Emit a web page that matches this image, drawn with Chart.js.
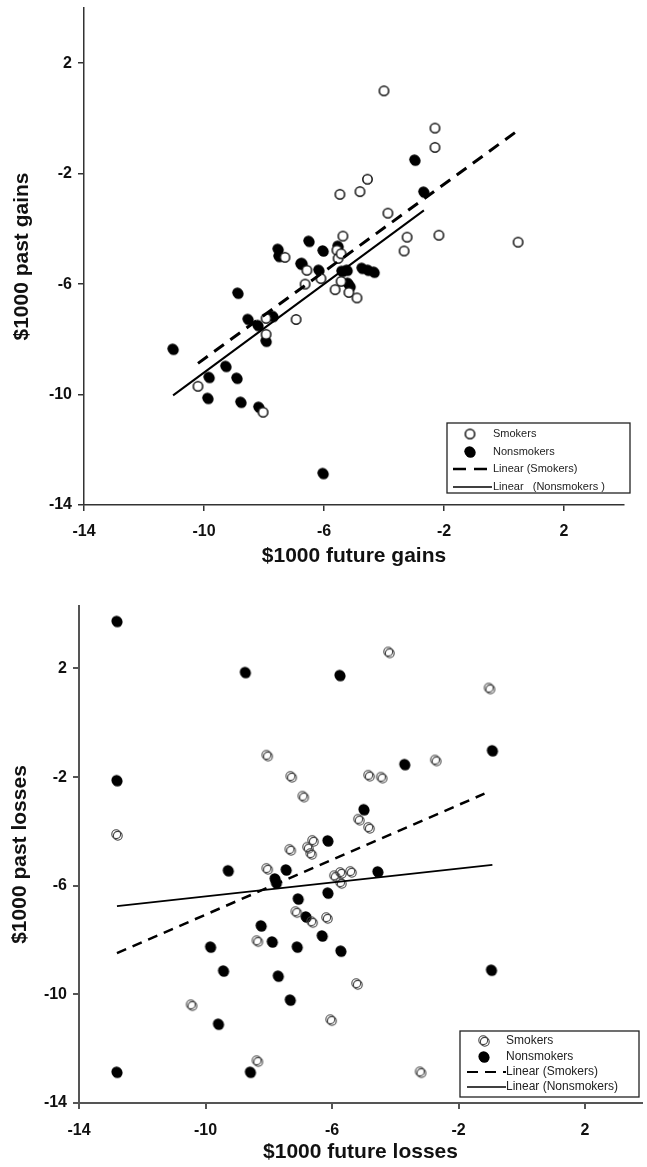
<!DOCTYPE html>
<html>
<head>
<meta charset="utf-8">
<script src="https://cdn.jsdelivr.net/npm/chart.js@4"></script>
<style>
body{margin:0;background:#fff;width:647px;height:1167px;overflow:hidden;}
.box{position:absolute;left:0;width:647px;}
#top{top:0;height:580px;}
#bot{top:580px;height:587px;}
</style>
</head>
<body>
<div class="box" id="top"><canvas id="gainsChart" width="647" height="580"></canvas></div>
<div class="box" id="bot"><canvas id="lossesChart" width="647" height="587"></canvas></div>
<script>
// tick values shared by both panels
const tickVals = [-14, -10, -6, -2, 2];

const legendGains = ["Smokers", "Nonsmokers", "Linear (Smokers)", "Linear   (Nonsmokers )"];
const legendLosses = ["Smokers", "Nonsmokers", "Linear (Smokers)", "Linear (Nonsmokers)"];

// top panel: future gains vs past gains
const gainsSmokers = [
[-4.0,1.0],[-2.3,-0.35],[-2.3,-1.05],[-4.55,-2.2],[-4.8,-2.65],[-5.47,-2.75],[-3.87,-3.43],
[-3.23,-4.3],[-3.33,-4.8],[-2.17,-4.23],[0.47,-4.48],[-5.37,-4.26],[-5.57,-4.77],[-5.53,-5.07],
[-5.43,-4.9],[-6.57,-5.5],[-6.63,-6.0],[-6.1,-5.8],[-5.63,-6.2],[-5.17,-6.3],[-4.9,-6.5],
[-5.43,-5.9],[-7.3,-5.03],[-6.93,-7.28],[-7.93,-7.24],[-7.93,-7.82],[-10.2,-9.7],[-8.03,-10.64]
];
const gainsNonsmokers = [
[-2.97,-1.51],[-2.67,-2.67],[-6.5,-4.45],[-6.03,-4.8],[-5.53,-4.63],[-6.73,-5.25],[-6.17,-5.5],
[-5.4,-5.54],[-5.23,-5.5],[-4.73,-5.43],[-4.53,-5.5],[-4.33,-5.57],[-5.2,-5.97],[-5.13,-6.08],
[-7.53,-4.74],[-7.5,-5.0],[-6.77,-5.28],[-8.87,-6.33],[-8.53,-7.28],[-8.2,-7.5],[-7.7,-7.17],
[-7.93,-8.07],[-11.03,-8.36],[-9.27,-8.98],[-9.83,-9.38],[-8.9,-9.41],[-9.87,-10.14],[-8.77,-10.28],
[-8.17,-10.46],[-6.03,-12.86]
];
const gainsTrendSmokers = [[-10.2,-8.87],[0.47,-0.43]];
const gainsTrendNonsmokers = [[-11.03,-10.03],[-2.67,-3.33]];

// bottom panel: future losses vs past losses
const lossesSmokers = [
[-4.2,2.59],[-1.02,1.26],[-8.05,-1.21],[-7.29,-1.99],[-6.91,-2.72],[-2.72,-1.39],[-4.83,-1.95],
[-4.43,-2.02],[-12.8,-4.13],[-5.15,-3.57],[-4.83,-3.87],[-6.6,-4.35],[-6.76,-4.6],[-6.66,-4.83],
[-7.32,-4.68],[-8.05,-5.38],[-5.91,-5.65],[-5.72,-5.53],[-5.4,-5.49],[-5.72,-5.9],[-7.13,-6.97],
[-6.63,-7.34],[-6.16,-7.19],[-8.36,-8.04],[-5.21,-9.62],[-10.44,-10.4],[-6.03,-10.95],
[-8.36,-12.46],[-3.2,-12.87]
];
const lossesNonsmokers = [
[-12.8,3.73],[-8.74,1.85],[-5.75,1.74],[-12.8,-2.13],[-6.13,-4.35],[-3.7,-1.54],[-0.93,-1.03],
[-4.99,-3.2],[-12.8,-12.87],[-9.28,-5.45],[-7.45,-5.42],[-7.76,-5.9],[-7.8,-5.75],[-6.13,-6.27],
[-7.07,-6.49],[-8.24,-7.48],[-6.82,-7.15],[-9.84,-8.26],[-7.89,-8.07],[-7.1,-8.26],[-6.31,-7.85],
[-5.72,-8.41],[-9.43,-9.14],[-7.7,-9.33],[-7.32,-10.21],[-9.59,-11.1],[-8.58,-12.87],
[-4.55,-5.49],[-0.96,-9.11]
];
const lossesTrendSmokers = [[-12.8,-8.48],[-1.18,-2.61]];
const lossesTrendNonsmokers = [[-12.8,-6.75],[-0.93,-5.23]];

const FONT = "'Liberation Sans', Arial, sans-serif";
const toPts = a => a.map(p => ({x: p[0], y: p[1]}));

// marker drawn twice with a small offset, like the scanned figure
function makeDot(r, fill, stroke, lw, dx, dy){
  const c = document.createElement("canvas");
  const s = Math.ceil(2*r + Math.max(Math.abs(dx), Math.abs(dy)) + lw + 2);
  c.width = c.height = s;
  const g = c.getContext("2d");
  const cx = s/2 - dx/2, cy = s/2 - dy/2;
  [[0,0],[dx,dy]].forEach(o => {
    g.beginPath();
    g.arc(cx+o[0], cy+o[1], r, 0, Math.PI*2);
    if(fill){ g.fillStyle = fill; g.fill(); }
    if(stroke){ g.strokeStyle = stroke; g.lineWidth = lw; g.stroke(); }
  });
  return c;
}

const gainsOpen = makeDot(4.6, "#fff", "#111", 1.3, 0, 0);
const gainsFilled = makeDot(5.2, "#000", null, 0, 1, 1.3);
const lossOpen = makeDot(4.4, null, "#444", 1.1, 1.6, 1.6);
const lossFilled = makeDot(5.2, "#000", null, 0, 0.8, 1);

function legendPlugin(cfg){
  return {
    id: "boxLegend",
    afterDraw(chart){
      const ctx = chart.ctx;
      ctx.save();
      ctx.strokeStyle = "#222";
      ctx.lineWidth = 1.3;
      ctx.strokeRect(cfg.x0, cfg.y0, cfg.x1-cfg.x0, cfg.y1-cfg.y0);
      ctx.font = cfg.size + "px " + FONT;
      ctx.fillStyle = "#222";
      ctx.textBaseline = "middle";
      cfg.labels.forEach((t, i) => {
        const y = cfg.rows[i];
        if(i === 0) ctx.drawImage(cfg.open, cfg.markX - cfg.open.width/2, y - cfg.open.height/2);
        if(i === 1) ctx.drawImage(cfg.filled, cfg.markX - cfg.filled.width/2, y - cfg.filled.height/2);
        if(i >= 2){
          ctx.beginPath();
          ctx.strokeStyle = "#000";
          ctx.lineWidth = i === 2 ? cfg.dashW : cfg.solidW;
          ctx.setLineDash(i === 2 ? cfg.dash : []);
          ctx.moveTo(cfg.lineX0, y);
          ctx.lineTo(cfg.lineX1, y);
          ctx.stroke();
          ctx.setLineDash([]);
        }
        ctx.fillText(t, cfg.textX, y);
      });
      ctx.restore();
    }
  };
}

function axis(title, min, max, fit, tickLen, tickPad, titlePad, lineColor, lineW){
  return {
    type: "linear", min: min, max: max,
    afterBuildTicks: s => { s.ticks = tickVals.map(v => ({value: v})); },
    afterFit: s => {
      fit(s);
      // no extra room for half tick labels at the ends
      s.paddingTop = 0; s.paddingBottom = 0; s.paddingLeft = 0; s.paddingRight = 0;
    },
    grid: {drawOnChartArea: false, drawTicks: true, tickLength: tickLen, tickColor: lineColor, tickWidth: lineW, color: lineColor, lineWidth: lineW},
    border: {display: true, color: lineColor, width: lineW},
    ticks: {autoSkip: false, maxRotation: 0, padding: tickPad, color: "#111",
      font: {family: FONT, size: 16, weight: "bold"}, callback: v => String(v)},
    title: {display: true, text: title, color: "#111", padding: titlePad,
      font: {family: FONT, size: 21, weight: "bold"}}
  };
}

function makeChart(id, p){
  return new Chart(document.getElementById(id), {
    type: "scatter",
    data: {datasets: [
      {type: "line", data: toPts(p.trendS), showLine: true, borderColor: "#000", borderWidth: p.dashW,
        borderDash: p.dash, pointRadius: 0, fill: false, order: 0},
      {type: "line", data: toPts(p.trendN), showLine: true, borderColor: "#000", borderWidth: p.solidW,
        pointRadius: 0, fill: false, order: 0},
      {data: toPts(p.smokers), pointStyle: p.open, order: 1},
      {data: toPts(p.nonsmokers), pointStyle: p.filled, order: 2}
    ]},
    options: {
      responsive: false, animation: false,
      layout: {padding: p.pad},
      plugins: {legend: {display: false}, tooltip: {enabled: false}},
      scales: {x: p.x, y: p.y}
    },
    plugins: [legendPlugin(p.legend)]
  });
}

makeChart("gainsChart", {
  smokers: gainsSmokers, nonsmokers: gainsNonsmokers,
  trendS: gainsTrendSmokers, trendN: gainsTrendNonsmokers,
  open: gainsOpen, filled: gainsFilled,
  dash: [12, 8], dashW: 3, solidW: 2,
  pad: {top: 8, right: 23, left: 0, bottom: 0},
  x: axis("$1000 future gains", -14, 4, s => { s.height = 75; }, 6, 11, {top: 0, bottom: 11}, "#333", 1.5),
  y: axis("$1000 past gains", -14, 4, s => { s.width = 84; }, 6, 6, {top: 10, bottom: 0}, "#333", 1.5),
  legend: {labels: legendGains, x0: 447, y0: 423, x1: 630, y1: 493, rows: [434, 452, 469, 487],
    markX: 470, textX: 493, lineX0: 453, lineX1: 492, size: 11, open: gainsOpen, filled: gainsFilled,
    dash: [13, 8], dashW: 2.5, solidW: 1.5}
});

makeChart("lossesChart", {
  smokers: lossesSmokers, nonsmokers: lossesNonsmokers,
  trendS: lossesTrendSmokers, trendN: lossesTrendNonsmokers,
  open: lossOpen, filled: lossFilled,
  dash: [10, 7], dashW: 2.5, solidW: 1.8,
  pad: {top: 26, right: 3, left: 0, bottom: 0},
  x: axis("$1000 future losses", -14, 3.8, s => { s.height = 64; }, 6, 12, {top: 0, bottom: 2}, "#555", 2),
  y: axis("$1000 past losses", -14, 4.3, s => { s.width = 79; }, 6, 6, {top: 8, bottom: 0}, "#555", 2),
  legend: {labels: legendLosses, x0: 460, y0: 451, x1: 639, y1: 517, rows: [461, 477, 492, 507],
    markX: 484, textX: 506, lineX0: 467, lineX1: 506, size: 12, open: lossOpen, filled: lossFilled,
    dash: [11, 7], dashW: 2, solidW: 1.5}
});
</script>
</body>
</html>
